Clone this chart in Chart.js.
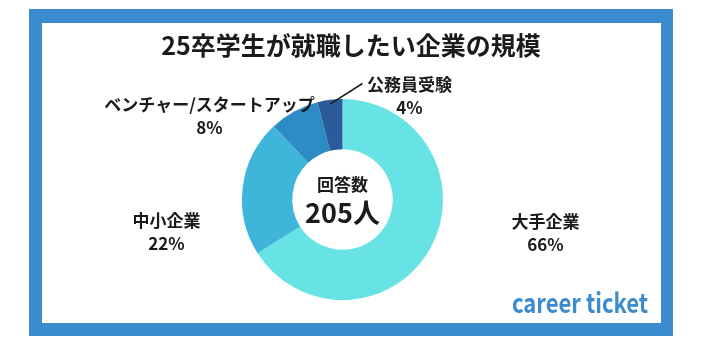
<!DOCTYPE html>
<html lang="ja">
<head>
<meta charset="utf-8">
<title>25卒学生が就職したい企業の規模</title>
<script src="https://cdn.jsdelivr.net/npm/chart.js@4"></script>
<style>
    html, body { margin: 0; padding: 0; background: #ffffff; }
    #wrap { width: 704px; height: 344px; position: relative; }
</style>
</head>
<body>
<div id="wrap"><canvas id="sizeChart" width="704" height="344"></canvas></div>
<script>
// data
const titleText = '25卒学生が就職したい企業の規模';
const categories = ['大手企業', '中小企業', 'ベンチャー/スタートアップ', '公務員受験'];
const shares = [66, 22, 8, 4];
const respondents = 205;

// slice colours, same order as categories
const sliceColors = ['#67e2e5', '#3eb5d9', '#2e8cc4', '#2c5b9c'];

// where each label sits, relative to the doughnut centre (px)
const labelOffsets = [[203, 22], [-176, 21], [-133, -95], [67, -115]];
const leaderEnd = [20, -116]; // only the small slice gets a leader line

const FONT = '"Noto Sans CJK JP", "Noto Sans", sans-serif';
const frameBlue = '#3b8bcf';

const canvas = document.getElementById('sizeChart');

// Frame + title behind the chart
const framePlugin = {
    id: 'frame',
    beforeDraw(chart) {
        const ctx = chart.ctx;
        ctx.save();
        ctx.fillStyle = '#ffffff';
        ctx.fillRect(0, 0, chart.width, chart.height);
        ctx.fillStyle = frameBlue;
        ctx.fillRect(29, 9, 644, 327);
        ctx.fillStyle = '#ffffff';
        ctx.fillRect(42, 23, 619, 300);

        ctx.fillStyle = '#1a1a1a';
        ctx.font = `bold 25px ${FONT}`;
        ctx.textAlign = 'center';
        ctx.textBaseline = 'middle';
        ctx.fillText(titleText, 351, 45);
        ctx.restore();
    }
};

// Labels, centre text and logo on top
const labelPlugin = {
    id: 'sliceLabels',
    afterDraw(chart) {
        const ctx = chart.ctx;
        const meta = chart.getDatasetMeta(0);
        const first = meta.data[0];
        const cx = first.x, cy = first.y;

        ctx.save();
        ctx.fillStyle = '#1a1a1a';
        ctx.textAlign = 'center';
        ctx.textBaseline = 'middle';

        categories.forEach((name, i) => {
            const [ox, oy] = labelOffsets[i];
            ctx.font = `bold 17px ${FONT}`;
            ctx.fillText(name, cx + ox, cy + oy);
            ctx.fillText(shares[i] + '%', cx + ox, cy + oy + 23);
        });

        // leader line for the last (smallest) slice
        const arc = meta.data[categories.length - 1];
        const mid = (arc.startAngle + arc.endAngle) / 2;
        const r0 = arc.outerRadius * 0.96;
        ctx.strokeStyle = '#1a1a1a';
        ctx.lineWidth = 1.5;
        ctx.beginPath();
        ctx.moveTo(cx + Math.cos(mid) * r0, cy + Math.sin(mid) * r0);
        ctx.lineTo(cx + leaderEnd[0], cy + leaderEnd[1]);
        ctx.stroke();

        // centre text
        ctx.font = `bold 17px ${FONT}`;
        ctx.fillText('回答数', cx, cy - 15);
        ctx.font = `bold 27px ${FONT}`;
        ctx.fillText(respondents + '人', cx, cy + 13);

        // logo
        ctx.fillStyle = frameBlue;
        ctx.font = `bold 27px ${FONT}`;
        ctx.textAlign = 'left';
        ctx.textBaseline = 'alphabetic';
        const logo = 'career ticket';
        const w = ctx.measureText(logo).width;
        ctx.translate(512, 313);
        ctx.scale(136 / w, 1);
        ctx.fillText(logo, 0, 0);
        ctx.restore();
    }
};

new Chart(canvas, {
    type: 'doughnut',
    data: {
        labels: categories,
        datasets: [{
            data: shares,
            backgroundColor: sliceColors,
            borderWidth: 0
        }]
    },
    options: {
        responsive: false,
        animation: false,
        cutout: '50%',
        layout: {
            padding: { left: 242, right: 261, top: 99, bottom: 44 }
        },
        plugins: {
            legend: { display: false },
            tooltip: { enabled: false },
            title: { display: false }
        }
    },
    plugins: [framePlugin, labelPlugin]
});
</script>
</body>
</html>
